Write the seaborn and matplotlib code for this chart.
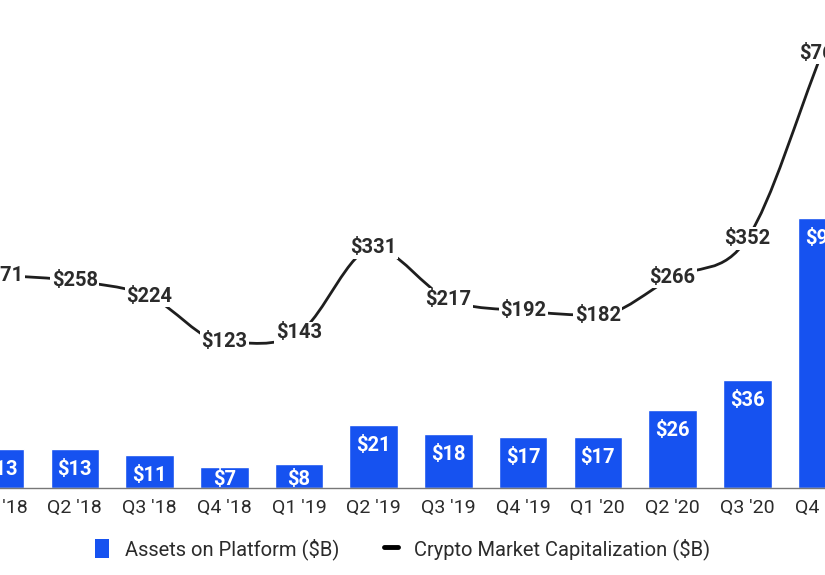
import numpy as np
import pandas as pd
import seaborn as sns
import matplotlib.pyplot as plt
from matplotlib.path import Path
from matplotlib.patches import PathPatch, Patch
from matplotlib.lines import Line2D

quarters = ["Q1 '18", "Q2 '18", "Q3 '18", "Q4 '18", "Q1 '19", "Q2 '19",
            "Q3 '19", "Q4 '19", "Q1 '20", "Q2 '20", "Q3 '20", "Q4 '20"]
assets = [13, 13, 11, 7, 8, 21, 18, 17, 17, 26, 36, 90]
market_cap = [271, 258, 224, 123, 143, 331, 217, 192, 182, 266, 352, 762]

BLUE = "#1652f0"
DARK = "#2b2b2b"

sns.set_theme(style="white")
plt.rcParams['font.family'] = ['Roboto', 'DejaVu Sans']

fig = plt.figure(figsize=(8.25, 5.75), dpi=100)
ax = fig.add_axes([0, 87 / 575, 1, 488 / 575])

df = pd.DataFrame({"quarter": quarters, "assets": assets, "cap": market_cap})
sns.barplot(data=df, x="quarter", y="assets", color=BLUE, saturation=1,
            width=0.65, ax=ax)

# bar labels (white, inside near top)
for i, v in enumerate(assets):
    ax.text(i, max(v - 6.7, 3.0), f"${v}", ha="center", va="center",
            color="white", fontsize=14.5, fontweight="bold")

ax.set_xlim(-0.001, 11.04)
ax.set_ylim(0, 162.7)
ax.set_xlabel("")
ax.set_ylabel("")
ax.set_yticks([])
ax.tick_params(axis="x", length=0, pad=8, labelsize=14, colors=DARK)
for s in ["top", "left", "right"]:
    ax.spines[s].set_visible(False)
ax.spines["bottom"].set_color("#777777")
ax.spines["bottom"].set_linewidth(1)

# crypto market cap line on a second axis, smoothed with monotone bezier curves
ax2 = ax.twinx()
ax2.set_ylim(-200, 879.6)
ax2.set_yticks([])
for s in ax2.spines.values():
    s.set_visible(False)

x = np.arange(len(market_cap), dtype=float)
y = np.array(market_cap, dtype=float)
d = np.diff(y)
m = np.zeros_like(y)
m[0], m[-1] = d[0], d[-1]
for i in range(1, len(y) - 1):
    if d[i - 1] * d[i] > 0:
        m[i] = (d[i - 1] + d[i]) / 2
verts = [(x[0], y[0])]
codes = [Path.MOVETO]
for i in range(len(y) - 1):
    verts += [(x[i] + 1 / 3, y[i] + m[i] / 3),
              (x[i + 1] - 1 / 3, y[i + 1] - m[i + 1] / 3),
              (x[i + 1], y[i + 1])]
    codes += [Path.CURVE4] * 3
ax2.add_patch(PathPatch(Path(verts, codes), fill=False, edgecolor="#1e1e1e",
                        lw=2, zorder=2))

for i, v in enumerate(market_cap):
    ax2.text(i, v, f"${v}", ha="center", va="center", color=DARK,
             fontsize=14.5, fontweight="bold", zorder=3,
             bbox=dict(boxstyle="square,pad=0.08", fc="white", ec="none"))

ax2.set_xlim(-0.001, 11.04)

handles = [Patch(facecolor=BLUE, edgecolor="none", label="Assets on Platform ($B)"),
           Line2D([0], [0], color="black", lw=3.5, label="Crypto Market Capitalization ($B)")]
fig.legend(handles=handles, loc="center", bbox_to_anchor=(0.488, 0.045), ncol=2,
           frameon=False, fontsize=14.5, handlelength=0.7, handleheight=1.1,
           handletextpad=0.8, columnspacing=2.2, labelcolor=DARK)

fig.savefig("out.png", dpi=100)
